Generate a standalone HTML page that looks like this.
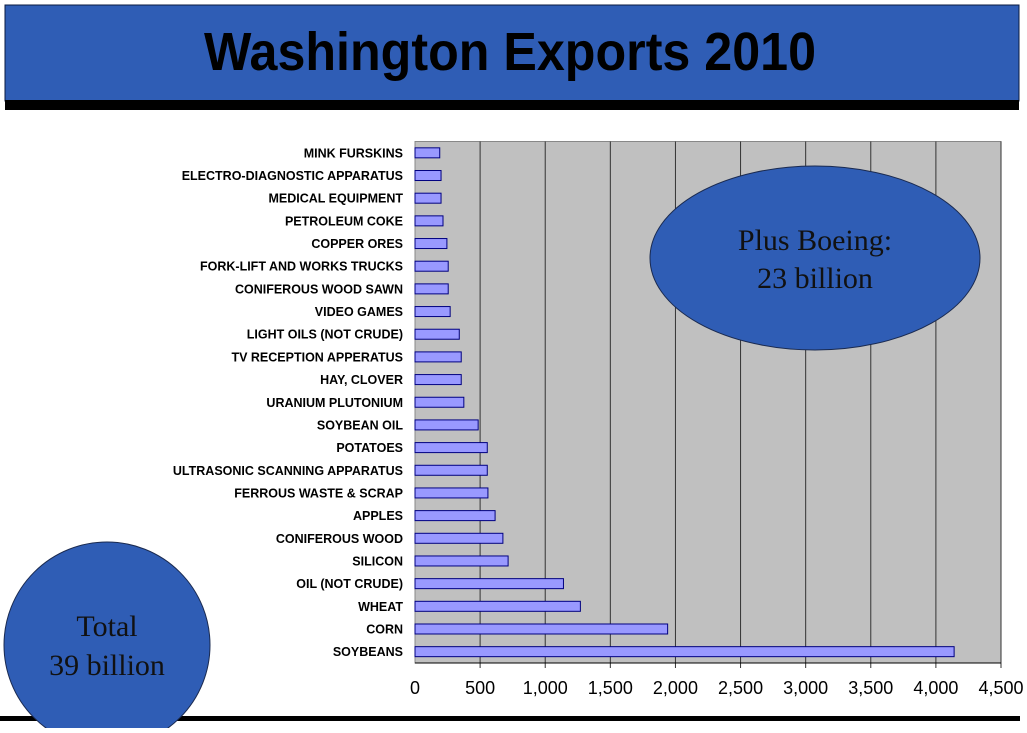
<!DOCTYPE html>
<html><head><meta charset="utf-8"><style>
body{margin:0;background:#fff;width:1027px;height:728px;overflow:hidden;font-family:"Liberation Sans",sans-serif}
</style></head><body>
<svg width="1027" height="728">
<rect x="5" y="5" width="1014" height="96" fill="#2f5db5" stroke="#0a1a40"/>
<rect x="5" y="100" width="1014" height="10" fill="#000"/>
<text x="510" y="70" text-anchor="middle" font-size="54" font-weight="bold" fill="#000" textLength="612" lengthAdjust="spacingAndGlyphs">Washington Exports 2010</text>
<g id="plot"></g>
<rect x="0" y="716" width="1020" height="5" fill="#000"/>
<ellipse cx="815" cy="258" rx="165" ry="92" fill="#2f5db5" stroke="#1a2a50"/>
<text x="815" y="250" text-anchor="middle" font-family="Liberation Serif,serif" font-size="30" fill="#111">Plus Boeing:</text>
<text x="815" y="288" text-anchor="middle" font-family="Liberation Serif,serif" font-size="30" fill="#111">23 billion</text>
<circle cx="107" cy="645" r="103" fill="#2f5db5" stroke="#1a2a50"/>
<text x="107" y="636" text-anchor="middle" font-family="Liberation Serif,serif" font-size="30" fill="#111">Total</text>
<text x="107" y="675" text-anchor="middle" font-family="Liberation Serif,serif" font-size="30" fill="#111">39 billion</text>
</svg>
<script>
const categories=["MINK FURSKINS","ELECTRO-DIAGNOSTIC APPARATUS","MEDICAL EQUIPMENT","PETROLEUM COKE","COPPER ORES","FORK-LIFT AND WORKS TRUCKS","CONIFEROUS WOOD SAWN","VIDEO GAMES","LIGHT OILS (NOT CRUDE)","TV RECEPTION APPERATUS","HAY, CLOVER","URANIUM PLUTONIUM","SOYBEAN OIL","POTATOES","ULTRASONIC SCANNING APPARATUS","FERROUS WASTE & SCRAP","APPLES","CONIFEROUS WOOD","SILICON","OIL (NOT CRUDE)","WHEAT","CORN","SOYBEANS"];
const values=[190,200,200,215,245,255,255,270,340,355,355,375,485,555,555,560,615,675,715,1140,1270,1940,4140];
const ticks=[0,500,1000,1500,2000,2500,3000,3500,4000,4500];
const tickLabels=["0","500","1,000","1,500","2,000","2,500","3,000","3,500","4,000","4,500"];
const NS="http://www.w3.org/2000/svg",g=document.getElementById("plot");
const X0=415,X1=1001,Y0=141.5,Y1=663,xMax=4500;
const x=v=>X0+(v/xMax)*(X1-X0);
const band=(Y1-Y0)/categories.length;
const y=i=>Y0+band*i+band/2;
function mk(t,a){const e=document.createElementNS(NS,t);for(const k in a)e.setAttribute(k,a[k]);g.appendChild(e);return e;}
let bg=mk("rect",{x:X0,y:Y0,width:X1-X0,height:Y1-Y0,fill:"#c0c0c0",stroke:"#888"});


ticks.forEach((t,i)=>{
 if(t>0){let l=mk("line",{x1:x(t),x2:x(t),y1:Y0,y2:Y1+5,stroke:"#333","stroke-width":1});
 
 }
 let tx=mk("text",{x:x(t),y:694,"text-anchor":"middle","font-size":"18",fill:"#000"});
 tx.textContent=tickLabels[i];
 
 
});
categories.forEach((c,i)=>{
 let r=mk("rect",{x:X0,y:y(i)-5,width:x(values[i])-X0,height:10,fill:"#9999ff",stroke:"#000080","stroke-width":1});
 
 
 let t=mk("text",{x:403,y:y(i)+4.5,"text-anchor":"end","font-size":"12.5","font-weight":"bold",fill:"#000"});
 t.textContent=c;
 
 
});
let ax=mk("line",{x1:X0,x2:X1,y1:Y1,y2:Y1,stroke:"#000"});


</script>
</body></html>
